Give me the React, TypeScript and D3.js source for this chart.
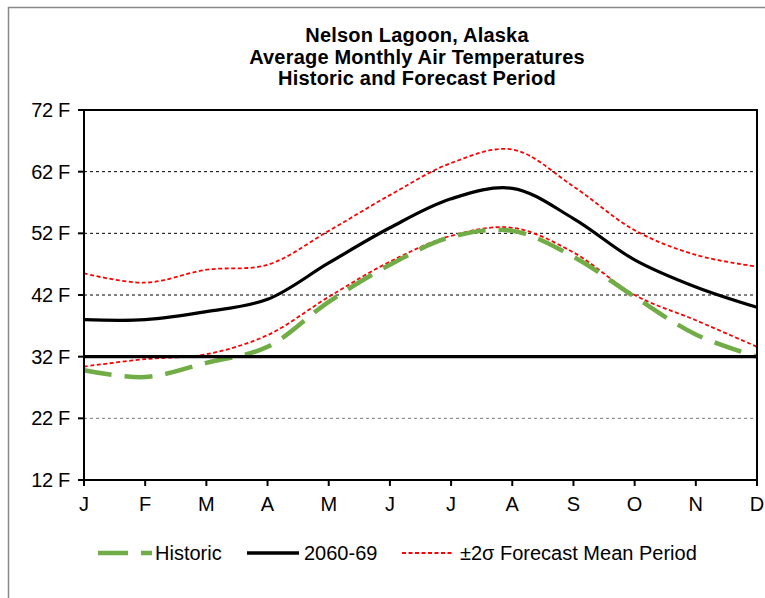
import React from "react";
import * as d3 from "d3";

const months = ["J", "F", "M", "A", "M", "J", "J", "A", "S", "O", "N", "D"];
const historic = [29.8, 28.7, 31.0, 33.6, 40.9, 46.9, 51.4, 52.4, 48.2, 41.7, 35.6, 32.0];
const forecast = [38.0, 38.0, 39.3, 41.3, 47.2, 52.9, 57.6, 59.3, 54.4, 47.7, 43.3, 40.0];
const upper = [45.5, 44.0, 46.1, 46.9, 52.4, 58.2, 63.4, 65.6, 59.6, 52.5, 48.5, 46.6];
const lower = [30.4, 31.6, 32.4, 35.5, 41.7, 47.4, 51.6, 52.9, 48.9, 42.0, 37.9, 33.6];
const yTicks = [12, 22, 32, 42, 52, 62, 72];
const titleLines = ["Nelson Lagoon, Alaska", "Average Monthly Air Temperatures", "Historic and Forecast Period"];

const W = 765, H = 598;
const L = 84, R = 757, T = 110, B = 480;
const font = "'Liberation Sans', Arial, sans-serif";

export default function App() {
  const x = d3.scaleLinear().domain([0, 11]).range([L, R]);
  const y = d3.scaleLinear().domain([12, 72]).range([B, T]);
  const line = d3
    .line<number>()
    .x((_, i) => x(i))
    .y((d) => y(d))
    .curve(d3.curveCatmullRom.alpha(0.5));

  return (
    <svg width={W} height={H} style={{ position: "absolute", left: 0, top: 0 }} fontFamily={font}>
      <rect x={0} y={0} width={W} height={H} fill="#fff" />
      <rect x={8.5} y={7.5} width={W + 20} height={H + 20} fill="none" stroke="#888" strokeWidth={1.5} />
      {titleLines.map((t, i) => (
        <text key={i} x={417} y={42 + i * 21.5} textAnchor="middle" fontSize={20} fontWeight="bold" letterSpacing={0.2}>
          {t}
        </text>
      ))}
      {yTicks.filter((v) => v !== 12 && v !== 72 && v !== 32).map((v) => (
        <line key={v} x1={L} x2={R} y1={y(v)} y2={y(v)} stroke={v === 22 ? "#777" : "#000"} strokeWidth={1} strokeDasharray="3,3" />
      ))}
      <path d={line(lower) || ""} fill="none" stroke="#ff0000" strokeWidth={1.8} strokeDasharray="4,2.5" />
      <path d={line(upper) || ""} fill="none" stroke="#ff0000" strokeWidth={1.8} strokeDasharray="4,2.5" />
      <path d={line(historic) || ""} fill="none" stroke="#70ad47" strokeWidth={4.5} strokeDasharray="28,13" />
      <path d={line(forecast) || ""} fill="none" stroke="#000" strokeWidth={3.2} />
      <line x1={L} x2={R} y1={y(32)} y2={y(32)} stroke="#000" strokeWidth={3.2} />
      <rect x={L} y={T} width={R - L} height={B - T} fill="none" stroke="#000" strokeWidth={2} />
      {yTicks.map((v) => (
        <g key={v}>
          <line x1={L - 6} x2={L} y1={y(v)} y2={y(v)} stroke="#000" strokeWidth={2} />
          <text x={70} y={y(v) + 7} textAnchor="end" fontSize={20} letterSpacing={-0.3}>
            {v} F
          </text>
        </g>
      ))}
      {months.map((m, i) => (
        <g key={i}>
          <line x1={x(i)} x2={x(i)} y1={B} y2={B + 6} stroke="#000" strokeWidth={2} />
          <text x={x(i)} y={511} textAnchor="middle" fontSize={20}>
            {m}
          </text>
        </g>
      ))}
      <g fontSize={20}>
        <line x1={98} x2={152} y1={553} y2={553} stroke="#70ad47" strokeWidth={4.5} strokeDasharray="30,13" />
        <text x={155} y={560}>Historic</text>
        <line x1={247} x2={299} y1={553} y2={553} stroke="#000" strokeWidth={3.5} />
        <text x={304} y={560}>2060-69</text>
        <line x1={402} x2={454} y1={553} y2={553} stroke="#ff0000" strokeWidth={1.8} strokeDasharray="4,2.5" />
        <text x={460} y={560}>±2σ Forecast Mean Period</text>
      </g>
    </svg>
  );
}
